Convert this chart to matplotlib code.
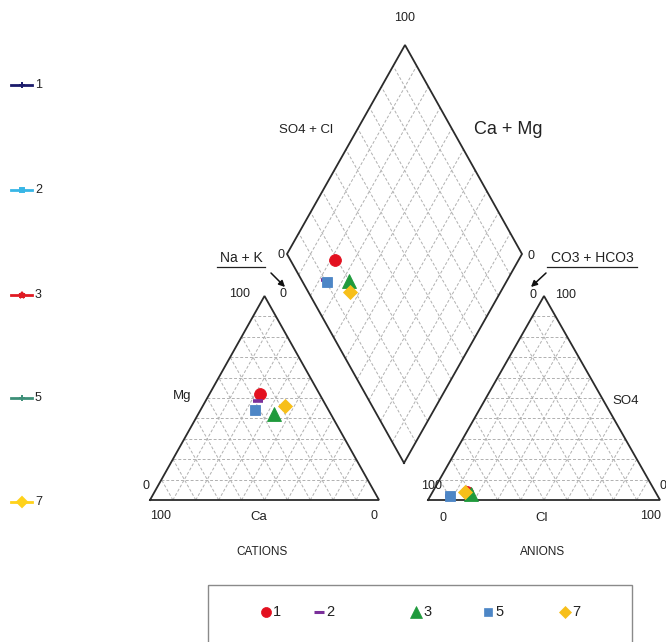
import matplotlib
matplotlib.use('Agg')
import matplotlib.pyplot as plt
from matplotlib.patches import Rectangle
import numpy as np

plt.rcParams['font.family'] = ['Liberation Sans', 'DejaVu Sans']

# ---------------- data (percent, meq basis) ----------------
samples = ['1', '2', '3', '5', '7']
ca = [26, 28.5, 25, 32, 18]
mg = [52, 48.5, 42, 44, 46]
nak = [22, 23, 33, 24, 36]
hco3 = [81, 89.5, 80, 89.5, 82]
so4 = [4, 2, 3, 2, 4]
cl = [15, 8.5, 17, 8.5, 14]

marker_colors = ['#e3101f', '#7a2f9a', '#1f9a3c', '#4d86c6', '#f7bf1a']
marker_shapes = ['o', '_', '^', 's', 'D']
marker_sizes = [8.5, 7, 9.5, 7, 7]

side_labels = ['1', '2', '3', '5', '7']
side_colors = ['#1b1b6b', '#38b6e6', '#e01b24', '#3d8f78', '#ffd21a']
side_markers = ['+', 's', '*', '+', 'D']

# ---------------- layout (pixel space) ----------------
W, H = 666, 642
fig = plt.figure(figsize=(W / 100, H / 100), dpi=100)
ax = fig.add_axes([0, 0, 1, 1])
ax.set_xlim(0, W)
ax.set_ylim(H, 0)
ax.axis('off')

LT = dict(x0=150.0, x1=379.0, base=500.0, top=296.0)
RT = dict(x0=428.0, x1=660.0, base=500.0, top=296.0)
D_bottom = np.array([404.0, 463.0])
D_left = np.array([287.0, 254.0])
D_right = np.array([522.0, 254.0])


def tri_xy(T, up, right):
    """up: percent at apex, right: percent at bottom-right corner."""
    up = np.asarray(up, float)
    right = np.asarray(right, float)
    x = T['x0'] + (T['x1'] - T['x0']) * (right + up / 2) / 100.0
    y = T['base'] - (T['base'] - T['top']) * up / 100.0
    return x, y


def dia_xy(s, c):
    s = np.asarray(s, float) / 100.0
    c = np.asarray(c, float) / 100.0
    x = D_bottom[0] + s * (D_right[0] - D_bottom[0]) + c * (D_left[0] - D_bottom[0])
    y = D_bottom[1] + s * (D_right[1] - D_bottom[1]) + c * (D_left[1] - D_bottom[1])
    return x, y


grid_kw = dict(color='#b0b0b0', lw=0.7, ls=(0, (3, 2)), zorder=1)
edge_kw = dict(color='#2b2b2b', lw=1.3, zorder=2, solid_joinstyle='miter')

levels = np.arange(10, 100, 10)

# triangles
for T in (LT, RT):
    for k in levels:
        xs, ys = tri_xy(T, [k, k], [0, 100 - k])
        ax.plot(xs, ys, **grid_kw)
        xs, ys = tri_xy(T, [0, 100 - k], [k, k])
        ax.plot(xs, ys, **grid_kw)
        xs, ys = tri_xy(T, [0, 100 - k], [100 - k, 0])
        ax.plot(xs, ys, **grid_kw)
    xs, ys = tri_xy(T, [0, 0, 100, 0], [0, 100, 0, 0])
    ax.plot(xs, ys, **edge_kw)

# diamond
for k in levels:
    xs, ys = dia_xy([k, k], [0, 100])
    ax.plot(xs, ys, **grid_kw)
    xs, ys = dia_xy([0, 100], [k, k])
    ax.plot(xs, ys, **grid_kw)
xs, ys = dia_xy([0, 100, 100, 0, 0], [0, 0, 100, 100, 0])
ax.plot(xs, ys, **edge_kw)

# ---------------- data points ----------------
for i in range(len(samples)):
    kw = dict(marker=marker_shapes[i], ms=marker_sizes[i], color=marker_colors[i],
              ls='none', zorder=5 + i,
              mew=2.6 if marker_shapes[i] == '_' else 0.6,
              mec=marker_colors[i])
    cx, cy = tri_xy(LT, mg[i], nak[i])
    ax.plot([cx], [cy], **kw)
    axx, ayy = tri_xy(RT, so4[i], cl[i])
    ax.plot([axx], [ayy], **kw)
    dx, dy = dia_xy(so4[i] + cl[i], ca[i] + mg[i])
    ax.plot([dx], [dy], **kw)

# ---------------- labels ----------------
t = dict(color='#222222', ha='center', va='center')
nfs = 9
ax.text(405, 18, '100', fontsize=nfs, **t)
ax.text(306, 130, 'SO4 + Cl', fontsize=9.5, **t)
ax.text(508, 130, 'Ca + Mg', fontsize=13, **t)
ax.text(281, 255, '0', fontsize=nfs, **t)
ax.text(531, 256, '0', fontsize=nfs, **t)

ax.text(241, 258, 'Na + K', fontsize=10, **t)
ax.plot([217, 265], [267, 267], color='#222222', lw=0.9)
ax.annotate('', xy=(285, 287), xytext=(271, 273),
            arrowprops=dict(arrowstyle='-|>', color='#111111', lw=1.1,
                            mutation_scale=9, shrinkA=0, shrinkB=0))
ax.text(240, 294, '100', fontsize=nfs, **t)
ax.text(283, 294, '0', fontsize=nfs, **t)

ax.text(592, 258, 'CO3 + HCO3', fontsize=10, **t)
ax.plot([547, 637], [267, 267], color='#222222', lw=0.9)
ax.annotate('', xy=(531, 287), xytext=(546, 273),
            arrowprops=dict(arrowstyle='-|>', color='#111111', lw=1.1,
                            mutation_scale=9, shrinkA=0, shrinkB=0))
ax.text(533, 295, '0', fontsize=nfs, **t)
ax.text(566, 295, '100', fontsize=nfs, **t)

ax.text(182, 396, 'Mg', fontsize=9.5, **t)
ax.text(146, 486, '0', fontsize=nfs, **t)
ax.text(161, 516, '100', fontsize=nfs, **t)
ax.text(259, 517, 'Ca', fontsize=9.5, **t)
ax.text(374, 516, '0', fontsize=nfs, **t)
ax.text(262, 552, 'CATIONS', fontsize=8.5, **t)

ax.text(626, 401, 'SO4', fontsize=9.5, **t)
ax.text(432, 486, '100', fontsize=nfs, **t)
ax.text(443, 518, '0', fontsize=nfs, **t)
ax.text(542, 518, 'Cl', fontsize=9.5, **t)
ax.text(651, 516, '100', fontsize=nfs, **t)
ax.text(666, 486, '0', fontsize=nfs, color='#222222', ha='right', va='center')
ax.text(543, 552, 'ANIONS', fontsize=8.5, **t)

# ---------------- left-side legend ----------------
side_y = [85, 190, 295, 398, 502]
for lab, col, mk, yy in zip(side_labels, side_colors, side_markers, side_y):
    ax.plot([11, 32], [yy, yy], color=col, lw=2.0, zorder=3)
    ax.plot([21.5], [yy], marker=mk, color=col, ms=5 if mk != 's' else 3.5,
            mew=1.4, zorder=4)
    ax.text(35, yy, lab, fontsize=9, color='#222222', ha='left', va='center')

# ---------------- bottom legend ----------------
ax.add_patch(Rectangle((208, 585), 424, 70, fill=False, ec='#8a8a8a', lw=1.0,
                       clip_on=False, zorder=3))
leg_x = [266, 319, 416, 488, 565]
for i, xx in enumerate(leg_x):
    ax.plot([xx], [612], marker=marker_shapes[i], color=marker_colors[i],
            ms=marker_sizes[i] * (0.85 if i != 1 else 1.0), ls='none',
            mew=2.2 if marker_shapes[i] == '_' else 0.5, mec=marker_colors[i])
    ax.text(xx + 7, 612, samples[i], fontsize=10.5, color='#222222',
            ha='left', va='center')

fig.savefig('out.png', dpi=100)
